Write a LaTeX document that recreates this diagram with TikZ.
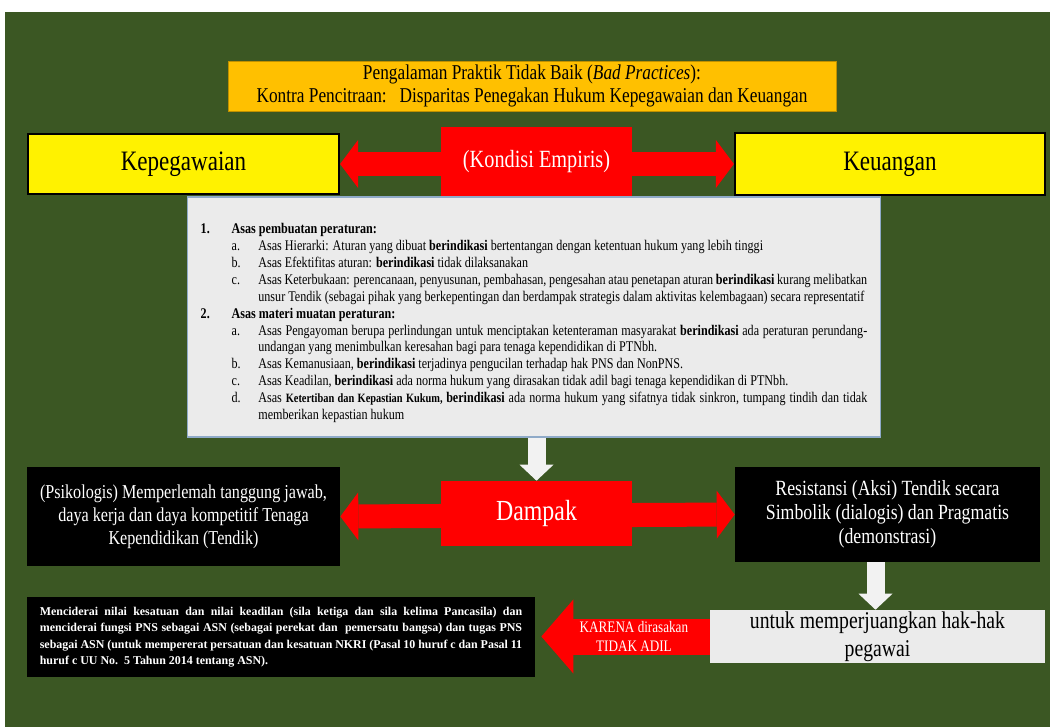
\documentclass[tikz,border=0pt]{standalone}
\usepackage{fontspec}
\setmainfont{Liberation Serif}[FakeStretch=0.82]
\newfontfamily\plainserif{Liberation Serif}
\usetikzlibrary{arrows.meta}

\definecolor{bggreen}{RGB}{59,87,35}
\definecolor{titleorange}{RGB}{255,192,0}
\definecolor{panelgray}{RGB}{235,235,235}
\definecolor{panelline}{RGB}{143,170,200}
\definecolor{arrowwhite}{RGB}{242,242,242}

\newcommand{\lvlone}[2]{\par\noindent\hangindent=22pt\hangafter=1\makebox[22pt][l]{\textbf{#1}}#2}
\newcommand{\lvltwo}[2]{\par\noindent\hangindent=41pt\hangafter=1\hspace*{22pt}\makebox[19pt][l]{#1}#2}

\tikzset{
  titlebox/.style={draw=titleorange!75!black,line width=0.6pt,fill=titleorange,align=center,inner sep=0pt},
  yellowbox/.style={draw=black,line width=1.5pt,fill=yellow,inner sep=0pt,font=\fontsize{20}{24}\selectfont},
  redbox/.style={fill=red,text=white,inner sep=0pt},
  blackbox/.style={fill=black,text=white,align=center,inner sep=0pt},
  widearrow/.style={red,line width=0.6cm,{Triangle[length=0.45cm,width=1.2cm,line width=0pt]}-{Triangle[length=0.45cm,width=1.2cm,line width=0pt]}},
  downarrow/.style={arrowwhite,line width=0.45cm,-{Triangle[length=0.4cm,width=0.85cm,line width=0pt]}},
  backarrow/.style={red,line width=0.9cm,-{Triangle[length=0.8cm,width=1.85cm,line width=0pt]}}
}

\begin{document}
\begin{tikzpicture}[x=0.025cm,y=-0.025cm]
      \useasboundingbox (0,0) rectangle (1050,727);
      \fill[white] (0,0) rectangle (1050,727);
      \fill[bggreen] (5,12) rectangle (1050,727);

      \node[titlebox,minimum width=15.2cm,minimum height=1.25cm,font=\fontsize{15}{17}\selectfont] (judul) at (532,86)
        {Pengalaman Praktik Tidak Baik (\textit{Bad Practices}):\\ Kontra Pencitraan:\ \ \ Disparitas Penegakan Hukum Kepegawaian dan Keuangan};

      \node[yellowbox,minimum width=7.775cm,minimum height=1.5cm] (kep) at (183.5,164) {Kepegawaian};
      \node[yellowbox,minimum width=7.75cm,minimum height=1.55cm] (keu) at (890,164) {Keuangan};
      \draw[widearrow] (kep.east) -- (keu.west);
      \node[redbox,minimum width=4.775cm,minimum height=1.725cm,font=\fontsize{17.6}{21}\selectfont] (kondisi) at (536.5,161.5) {(Kondisi Empiris)};

      \node[draw=panelline,line width=0.8pt,fill=panelgray,minimum width=17.3cm,minimum height=6cm,inner sep=0pt,
            text width=474pt,align=justify,font=\fontsize{10.5}{12}\selectfont] (asas) at (534,317) {\vspace*{4pt}\hyphenpenalty=10000
        \lvlone{1.}{\textbf{Asas pembuatan peraturan:}}
        \lvltwo{a.}{Asas Hierarki: Aturan yang dibuat \textbf{berindikasi} bertentangan dengan ketentuan hukum yang lebih tinggi}
        \lvltwo{b.}{Asas Efektifitas aturan: \textbf{berindikasi} tidak dilaksanakan}
        \lvltwo{c.}{Asas Keterbukaan: perencanaan, penyusunan, pembahasan, pengesahan atau penetapan aturan \textbf{berindikasi} kurang melibatkan unsur Tendik (sebagai pihak yang berkepentingan dan berdampak strategis dalam aktivitas kelembagaan) secara representatif}
        \lvlone{2.}{\textbf{Asas materi muatan peraturan:}}
        \lvltwo{a.}{Asas Pengayoman berupa perlindungan untuk menciptakan ketenteraman masyarakat \textbf{berindikasi} ada peraturan perundang-undangan yang menimbulkan keresahan bagi para tenaga kependidikan di PTNbh.}
        \lvltwo{b.}{Asas Kemanusiaan, \textbf{berindikasi} terjadinya pengucilan terhadap hak PNS dan NonPNS.}
        \lvltwo{c.}{Asas Keadilan, \textbf{berindikasi} ada norma hukum yang dirasakan tidak adil bagi tenaga kependidikan di PTNbh.}
        \lvltwo{d.}{Asas \textbf{\small Ketertiban dan Kepastian Kukum, }\textbf{berindikasi} ada norma hukum yang sifatnya tidak sinkron, tumpang tindih dan tidak memberikan kepastian hukum}\par};

      \node[blackbox,minimum width=7.825cm,minimum height=2.475cm,font=\fontsize{14}{16.5}\selectfont] (psiko) at (183.5,516.5)
        {(Psikologis) Memperlemah tanggung jawab,\\ daya kerja dan daya kompetitif Tenaga\\ Kependidikan (Tendik)};
      \node[blackbox,minimum width=7.625cm,minimum height=2.375cm,font=\fontsize{15.4}{17}\selectfont] (resist) at (887.5,514.5)
        {Resistansi (Aksi) Tendik secara\\ Simbolik (dialogis) dan Pragmatis\\ (demonstrasi)};
      \draw[widearrow] (psiko.east) -- (resist.west);
      \node[redbox,minimum width=4.775cm,minimum height=1.625cm,font=\fontsize{20.7}{24}\selectfont] (dampak) at (536.5,513.5) {Dampak};
      \draw[downarrow] (dampak.north |- asas.south) -- (dampak.north);

      \node[fill=panelgray,minimum width=8.375cm,minimum height=1.325cm,inner sep=0pt,align=center,
            font=\fontsize{17.1}{20}\selectfont] (juang) at (877.5,636.5) {untuk memperjuangkan hak-hak\\ pegawai};
      \draw[downarrow] ([xshift=-0.3cm]resist.south) -- ([xshift=-0.3cm]resist.south |- juang.north);

      \node[blackbox,minimum width=12.7cm,minimum height=2cm,text width=343pt,align=justify,
            font=\plainserif\bfseries\fontsize{8.5}{11.7}\selectfont] (cidera) at (281,637)
        {\hyphenpenalty=10000 Menciderai nilai kesatuan dan nilai keadilan (sila ketiga dan sila kelima Pancasila) dan menciderai fungsi PNS sebagai ASN (sebagai perekat dan\ \ pemersatu bangsa) dan tugas PNS sebagai ASN (untuk mempererat persatuan dan kesatuan NKRI (Pasal 10 huruf c dan Pasal 11 huruf c UU No.\ \ 5 Tahun 2014 tentang ASN).\par};
      \draw[backarrow] (juang.west) -- ([xshift=0.15cm]cidera.east |- juang.west)
        node[pos=0.45,text=white,align=center,font=\fontsize{11.4}{13.5}\selectfont] (karena) {KARENA dirasakan\\ TIDAK ADIL};
\end{tikzpicture}
\end{document}
